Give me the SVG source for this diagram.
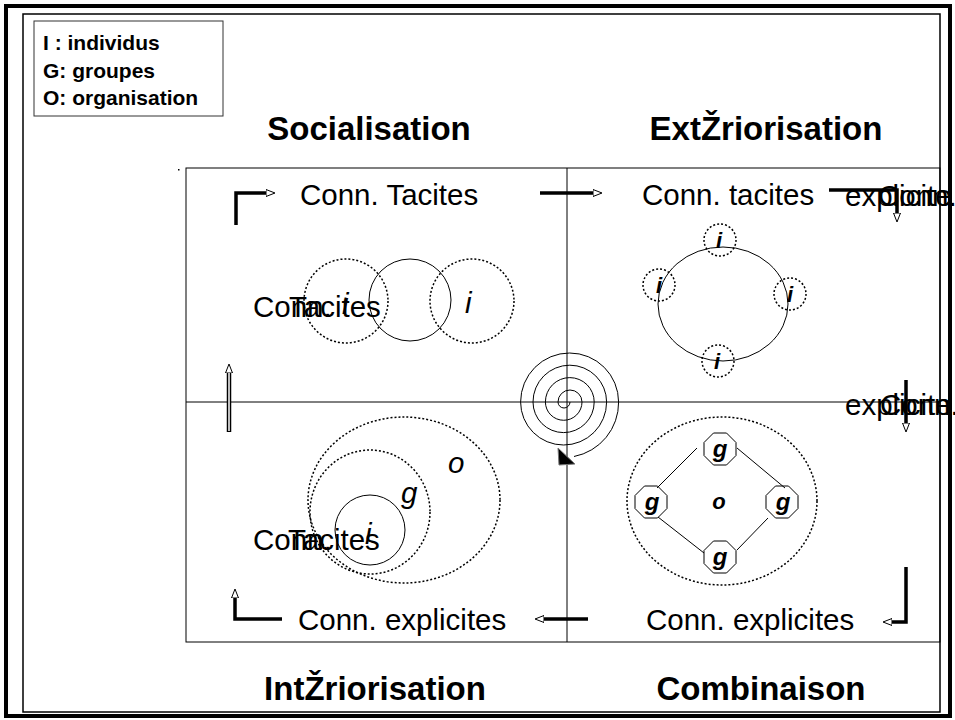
<svg xmlns="http://www.w3.org/2000/svg" width="955" height="720" viewBox="0 0 955 720">
  <style>
    .t { font-family: "Liberation Sans", Arial, sans-serif; fill: #000; }
    .title { font-size: 33px; font-weight: bold; text-anchor: middle; }
    .lbl { font-size: 29.5px; }
    .leg { font-size: 21px; font-weight: bold; }
    .it { font-style: italic; }
    .bi { font-style: italic; font-weight: bold; font-size: 22px; text-anchor: middle; }
    .big { font-size: 24px; }
    .dash { fill: none; stroke: #000; stroke-width: 1.5; stroke-dasharray: 2 2; }
    .thin { fill: none; stroke: #000; stroke-width: 1; }
    .arr { fill: none; stroke: #000; stroke-width: 3.5; }
  </style>
  <defs>
    <marker id="ah" viewBox="0 0 10 8" markerWidth="10" markerHeight="8" refX="1" refY="4" orient="auto" markerUnits="userSpaceOnUse">
      <path d="M0,0.5 L9,4 L0,7.5 Z" fill="#fff" stroke="#000" stroke-width="1"/>
    </marker>
  </defs>
  <rect x="0" y="0" width="955" height="720" fill="#fff"/>

  <!-- frame -->
  <g id="frame">
    <rect x="6" y="6" width="944" height="710" fill="none" stroke="#000" stroke-width="4"/>
    <rect x="23" y="14" width="917" height="698" fill="none" stroke="#000" stroke-width="1.5"/>
  </g>

  <!-- legend -->
  <g id="legend">
    <rect x="34" y="21" width="189" height="95" fill="#fff" stroke="#333" stroke-width="1"/>
    <text class="t leg" x="43" y="50">I : individus</text>
    <text class="t leg" x="43" y="78">G: groupes</text>
    <text class="t leg" x="43" y="105">O: organisation</text>
  </g>

  <!-- titles -->
  <g id="titles">
    <text class="t title" x="369" y="140">Socialisation</text>
    <text class="t title" x="766" y="140">ExtŽriorisation</text>
    <text class="t title" x="375" y="700">IntŽriorisation</text>
    <text class="t title" x="761" y="700">Combinaison</text>
  </g>

  <!-- main grid -->
  <g id="grid">
    <rect x="186" y="168" width="754" height="474" fill="none" stroke="#000" stroke-width="1"/>
    <line x1="567" y1="168" x2="567" y2="642" stroke="#000" stroke-width="1"/>
    <line x1="186" y1="402" x2="940" y2="402" stroke="#000" stroke-width="1"/>
    <rect x="178" y="169" width="1.5" height="1.5" fill="#000"/>
  </g>

  <!-- spiral -->
  <g id="spiral">
    <path class="thin" d="M570,402 A6,6 0 0 1 558,402 A12,12 0 0 1 582,402 A18.3,18.3 0 0 1 545.4,402 A24.4,24.4 0 0 1 594.2,402 A30.6,30.6 0 0 1 533,402 A36.8,36.8 0 0 1 606.6,402 A43,43 0 0 1 520.6,402 A49,49 0 0 1 618.6,402 A55,55 0 0 1 574,456.5"/>
    <polygon points="558,448 559,465 575,464" fill="#000" stroke="#777" stroke-width="1"/>
  </g>

  <!-- Socialisation quadrant -->
  <g id="socialisation">
    <text class="t lbl" x="300" y="205">Conn. Tacites</text>
    <circle class="dash" cx="346" cy="301" r="42"/>
    <circle class="thin" cx="410" cy="300" r="41"/>
    <circle class="dash" cx="472" cy="301" r="42"/>
    <text class="t lbl" x="253" y="317">Conn.</text>
    <text class="t lbl" x="289" y="317">Tacites</text>
    <text class="t lbl it" x="342" y="314">i</text>
    <text class="t lbl it" x="465" y="313">i</text>
  </g>

  <!-- Exteriorisation quadrant -->
  <g id="exteriorisation">
    <text class="t lbl" x="642" y="205">Conn. tacites</text>
    <ellipse class="thin" cx="723" cy="304" rx="65" ry="57"/>
    <circle class="dash" cx="720" cy="240" r="16" fill="#fff"/>
    <circle class="dash" cx="659" cy="285" r="16" fill="#fff"/>
    <circle class="dash" cx="790" cy="294" r="16" fill="#fff"/>
    <circle class="dash" cx="718" cy="361" r="16" fill="#fff"/>
    <text class="t bi" x="719" y="248">i</text>
    <text class="t bi" x="659" y="293">i</text>
    <text class="t bi" x="790" y="302">i</text>
    <text class="t bi" x="717" y="369">i</text>
    <text class="t lbl" x="845" y="206">explicite</text>
    <text class="t lbl" x="878" y="206">Conn.</text>
    <text class="t lbl" x="845" y="415">explicite</text>
    <text class="t lbl" x="880" y="415">Conn.</text>
  </g>

  <!-- Interiorisation quadrant -->
  <g id="interiorisation">
    <ellipse class="dash" cx="404" cy="500" rx="96" ry="83"/>
    <ellipse class="dash" cx="370" cy="512" rx="60" ry="62"/>
    <circle class="thin" cx="370" cy="530" r="35"/>
    <text class="t lbl it" x="448" y="473">o</text>
    <text class="t lbl it" x="401" y="503">g</text>
    <text class="t lbl it" x="365" y="544">i</text>
    <text class="t lbl" x="298" y="630">Conn. explicites</text>
    <text class="t lbl" x="253" y="550">Conn.</text>
    <text class="t lbl" x="288" y="550">Tacites</text>
  </g>

  <!-- Combinaison quadrant -->
  <g id="combinaison">
    <ellipse class="dash" cx="722" cy="501" rx="95" ry="84"/>
    <line class="thin" x1="697" y1="448" x2="657" y2="488"/>
    <line class="thin" x1="737" y1="448" x2="785" y2="488"/>
    <line class="thin" x1="658" y1="517" x2="704" y2="553"/>
    <line class="thin" x1="737" y1="550" x2="768" y2="518"/>
    <polygon class="thin" fill="#fff" points="713.5,433 726.5,433 736,442.5 736,455.5 726.5,465 713.5,465 704,455.5 704,442.5"/>
    <polygon class="thin" fill="#fff" points="644.5,486 657.5,486 667,495.5 667,508.5 657.5,518 644.5,518 635,508.5 635,495.5"/>
    <polygon class="thin" fill="#fff" points="775.5,486 788.5,486 798,495.5 798,508.5 788.5,518 775.5,518 766,508.5 766,495.5"/>
    <polygon class="thin" fill="#fff" points="713.5,541 726.5,541 736,550.5 736,563.5 726.5,573 713.5,573 704,563.5 704,550.5"/>
    <text class="t bi big" x="720" y="457">g</text>
    <text class="t bi big" x="652" y="510">g</text>
    <text class="t bi big" x="783" y="510">g</text>
    <text class="t bi big" x="720" y="565">g</text>
    <text class="t bi" x="719" y="509">o</text>
    <text class="t lbl" x="646" y="630">Conn. explicites</text>
  </g>

  <!-- connectors -->
  <g id="connectors">
    <path class="arr" d="M236,225 V193 H267" marker-end="url(#ah)"/>
    <path class="arr" d="M540,193 H594" marker-end="url(#ah)"/>
    <path class="arr" d="M829,190 H897 V214" marker-end="url(#ah)"/>
    <path class="arr" d="M906,380 V424" marker-end="url(#ah)"/>
    <path class="arr" d="M906,567 V622 H891" marker-end="url(#ah)"/>
    <path class="arr" d="M588,619 H543" marker-end="url(#ah)"/>
    <path class="arr" d="M282,619 H235 V597" marker-end="url(#ah)"/>
    <path d="M229,432 V372" stroke="#000" stroke-width="4.5" fill="none" marker-end="url(#ah)"/>
    <path d="M229,431 V373" stroke="#fff" stroke-width="1.5" fill="none"/>
  </g>
</svg>
